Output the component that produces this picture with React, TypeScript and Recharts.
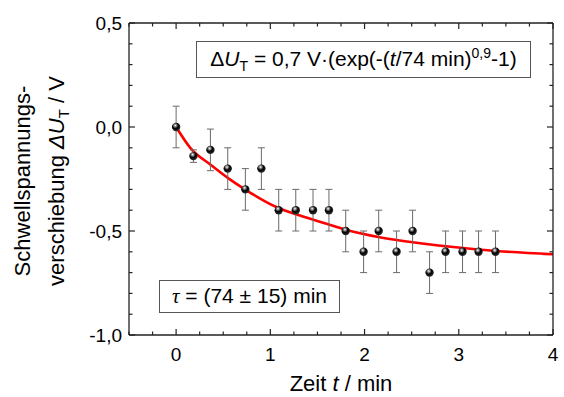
import { ComposedChart, Scatter, Line, XAxis, YAxis, ErrorBar } from 'recharts';

// measured points (time, threshold voltage shift, error)
const timeValues = [0, 0.184, 0.364, 0.548, 0.735, 0.905, 1.089, 1.27, 1.453, 1.622, 1.8, 1.99, 2.15, 2.34, 2.51, 2.69, 2.86, 3.04, 3.21, 3.39];
const shiftValues = [0, -0.14, -0.11, -0.2, -0.3, -0.2, -0.4, -0.4, -0.4, -0.4, -0.5, -0.6, -0.5, -0.6, -0.5, -0.7, -0.6, -0.6, -0.6, -0.6];
const shiftErrors = [0.1, 0.03, 0.1, 0.1, 0.1, 0.1, 0.1, 0.1, 0.1, 0.1, 0.1, 0.1, 0.1, 0.1, 0.1, 0.1, 0.1, 0.1, 0.1, 0.1];

// fit curve
const fitTimes = [0, 0.15, 0.37, 0.555, 0.742, 1.07, 1.315, 1.56, 1.81, 2.16, 2.59, 3.4, 4];
const fitValues = [0, -0.1, -0.183, -0.247, -0.303, -0.386, -0.426, -0.46, -0.495, -0.53, -0.559, -0.596, -0.612];

const xTicks = [-0.5, -0.25, 0, 0.25, 0.5, 0.75, 1, 1.25, 1.5, 1.75, 2, 2.25, 2.5, 2.75, 3, 3.25, 3.5, 3.75, 4];
const yTicks = [0.5, 0.4, 0.3, 0.2, 0.1, 0, -0.1, -0.2, -0.3, -0.4, -0.5, -0.6, -0.7, -0.8, -0.9, -1.0];
const xLabels = [0, 1, 2, 3, 4];
const yLabels = [0.5, 0, -0.5, -1.0];

const pointData = timeValues.map((x, i) => ({ x, y: shiftValues[i], err: shiftErrors[i] }));
const fitData = fitTimes.map((x, i) => ({ x, y: fitValues[i] }));

const FONT = '"Liberation Sans", Arial, sans-serif';
const AXIS = '#222';

const hasLabel = (list: number[], v: number) => list.some((l) => Math.abs(l - v) < 1e-6);
const fmt = (v: number) => v.toFixed(1).replace('.', ',');

const BottomTick = (props: any) => {
  const { x, y, payload } = props;
  const major = hasLabel(xLabels, payload.value);
  return (
    <g>
      <line x1={x} x2={x} y1={y} y2={y - (major ? 6 : 3.5)} stroke={AXIS} strokeWidth={1.2} />
      {major && (
        <text x={x} y={y + 26} textAnchor="middle" fontSize={19} fontFamily={FONT} fill="#000">
          {payload.value}
        </text>
      )}
    </g>
  );
};

const TopTick = (props: any) => {
  const { x, y, payload } = props;
  const major = hasLabel(xLabels, payload.value);
  return <line x1={x} x2={x} y1={y} y2={y + (major ? 6 : 3.5)} stroke={AXIS} strokeWidth={1.2} />;
};

const LeftTick = (props: any) => {
  const { x, y, payload } = props;
  const major = hasLabel(yLabels, payload.value);
  return (
    <g>
      <line x1={x} x2={x + (major ? 6 : 3.5)} y1={y} y2={y} stroke={AXIS} strokeWidth={1.2} />
      {major && (
        <text x={x - 7} y={y + 7} textAnchor="end" fontSize={19} fontFamily={FONT} fill="#000">
          {fmt(payload.value)}
        </text>
      )}
    </g>
  );
};

const RightTick = (props: any) => {
  const { x, y, payload } = props;
  const major = hasLabel(yLabels, payload.value);
  return <line x1={x} x2={x - (major ? 6 : 3.5)} y1={y} y2={y} stroke={AXIS} strokeWidth={1.2} />;
};

const Ball = (props: any) => {
  const { cx, cy } = props;
  if (cx == null || cy == null) return null;
  return (
    <g>
      <defs>
        <radialGradient id="ball" cx="40%" cy="32%" r="70%">
          <stop offset="0%" stopColor="#ffffff" />
          <stop offset="22%" stopColor="#888" />
          <stop offset="50%" stopColor="#000" />
          <stop offset="100%" stopColor="#333" />
        </radialGradient>
      </defs>
      <circle cx={cx} cy={cy} r={4.2} fill="url(#ball)" />
    </g>
  );
};

export default function App() {
  return (
    <div style={{ position: 'absolute', left: 0, top: 0, width: 564, height: 397, background: '#fff', fontFamily: FONT }}>
      <ComposedChart width={564} height={397} margin={{ top: 22, right: 10, bottom: 32, left: 89 }}>
        <XAxis xAxisId="b" dataKey="x" type="number" domain={[-0.5, 4]} ticks={xTicks} interval={0}
          height={30} tickSize={0} tickMargin={0} tick={BottomTick} allowDataOverflow
          axisLine={{ stroke: AXIS, strokeWidth: 1.3 }} />
        <XAxis xAxisId="t" orientation="top" dataKey="x" type="number" domain={[-0.5, 4]} ticks={xTicks} interval={0}
          height={1} tickSize={0} tickMargin={0} tick={TopTick} allowDataOverflow
          axisLine={{ stroke: AXIS, strokeWidth: 1.3 }} />
        <YAxis yAxisId="l" dataKey="y" type="number" domain={[-1, 0.5]} ticks={yTicks} interval={0}
          width={40} tickSize={0} tickMargin={0} tick={LeftTick} allowDataOverflow
          axisLine={{ stroke: AXIS, strokeWidth: 1.3 }} />
        <YAxis yAxisId="r" orientation="right" dataKey="y" type="number" domain={[-1, 0.5]} ticks={yTicks} interval={0}
          width={1} tickSize={0} tickMargin={0} tick={RightTick} allowDataOverflow
          axisLine={{ stroke: AXIS, strokeWidth: 1.3 }} />
        <Line data={fitData} xAxisId="b" yAxisId="l" dataKey="y" type="monotone" stroke="#ff0000"
          strokeWidth={2.6} dot={false} activeDot={false} isAnimationActive={false} />
        <Scatter data={pointData} xAxisId="b" yAxisId="l" dataKey="y" shape={Ball} isAnimationActive={false}>
          <ErrorBar dataKey="err" direction="y" width={3.5} stroke="#6a6a6a" strokeWidth={1} isAnimationActive={false} />
        </Scatter>
        <Scatter data={pointData} xAxisId="t" yAxisId="r" dataKey="y" shape={() => null} isAnimationActive={false} />
      </ComposedChart>

      {/* fit formula */}
      <div style={{ position: 'absolute', left: 196, top: 41, width: 335, height: 37, border: '1px solid #555',
        boxSizing: 'border-box', display: 'flex', alignItems: 'center', justifyContent: 'center', fontSize: 21, whiteSpace: 'nowrap' }}>
        <span>
          &Delta;<i>U</i><sub style={{ fontSize: 14 }}>T</sub> = 0,7 V&middot;(exp(-(<i>t</i>/74 min)
          <sup style={{ fontSize: 14 }}>0,9</sup>-1)
        </span>
      </div>

      {/* time constant */}
      <div style={{ position: 'absolute', left: 159, top: 280, width: 181, height: 33, border: '1px solid #555',
        boxSizing: 'border-box', display: 'flex', alignItems: 'center', justifyContent: 'center', fontSize: 21, whiteSpace: 'nowrap' }}>
        <span>
          <i style={{ fontFamily: '"Liberation Serif", serif' }}>&tau;</i> = (74 &plusmn; 15) min
        </span>
      </div>

      {/* x axis title */}
      <div style={{ position: 'absolute', left: 241, top: 371, width: 200, textAlign: 'center', fontSize: 22, lineHeight: '26px' }}>
        Zeit <i>t</i> / min
      </div>

      {/* y axis title */}
      <div style={{ position: 'absolute', left: 40 - 150, top: 181 - 34, width: 300, height: 68, transform: 'rotate(-90deg)',
        textAlign: 'center', fontSize: 22, lineHeight: '34px', whiteSpace: 'nowrap' }}>
        Schwellspannungs-<br />
        verschiebung <i>&Delta;U</i><sub style={{ fontSize: 15, lineHeight: 0 }}>T</sub> / V
      </div>
    </div>
  );
}
